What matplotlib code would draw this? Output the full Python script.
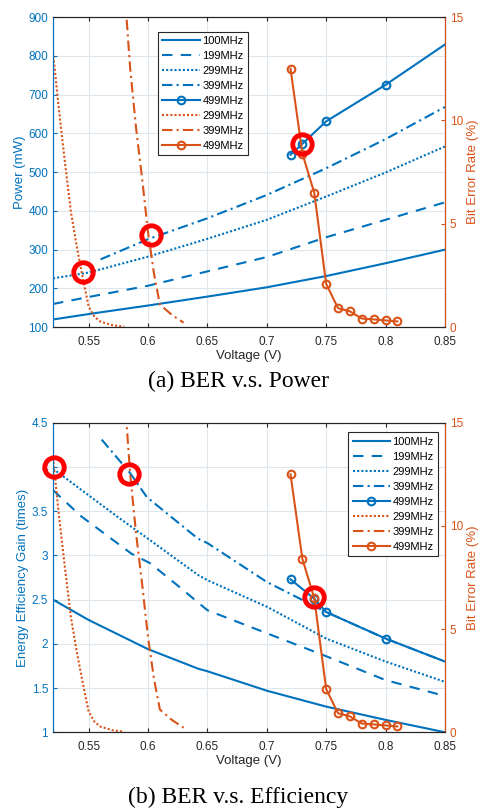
import numpy as np
import matplotlib.pyplot as plt
from matplotlib.lines import Line2D

plt.rcParams['font.family'] = ['Liberation Sans', 'DejaVu Sans']

BLUE = '#0072BD'
ORANGE = '#D95319'
GRAY = '#262626'

# ---------------- data ----------------
v_base = [0.52, 0.55, 0.60, 0.65, 0.70, 0.75, 0.80, 0.85]
v_399 = [0.56, 0.60, 0.65, 0.70, 0.75, 0.80, 0.85]
v_499_pow = [0.72, 0.73, 0.75, 0.80, 0.85]
v_499_eff = [0.72, 0.74, 0.75, 0.80, 0.85]

# power (mW)
pow_100 = [120, 134, 156, 179, 203, 232, 265, 300]
pow_199 = [160, 178, 207, 244, 281, 332, 377, 422]
pow_299 = [226, 241, 282, 328, 377, 437, 499, 566]
pow_399 = [275, 327, 381, 441, 510, 585, 668]
pow_499 = [545, 573, 631, 725, 829]

# energy efficiency gain (times)
v_eff_100 = [0.52, 0.55, 0.60, 0.642, 0.65, 0.70, 0.75, 0.80, 0.85]
eff_100 = [2.50, 2.27, 1.94, 1.72, 1.69, 1.47, 1.29, 1.14, 1.00]
v_eff_199 = [0.52, 0.527, 0.544, 0.565, 0.586, 0.602, 0.624, 0.65, 0.70, 0.75, 0.80, 0.85]
eff_199 = [3.74, 3.65, 3.44, 3.23, 3.02, 2.91, 2.67, 2.38, 2.12, 1.86, 1.59, 1.41]
v_eff_299 = [0.52, 0.546, 0.574, 0.602, 0.642, 0.65, 0.70, 0.75, 0.80, 0.85]
eff_299 = [3.98, 3.72, 3.44, 3.17, 2.78, 2.72, 2.42, 2.06, 1.80, 1.57]
v_eff_399 = [0.561, 0.585, 0.599, 0.642, 0.65, 0.70, 0.75, 0.80, 0.85]
eff_399 = [4.31, 3.93, 3.66, 3.19, 3.14, 2.70, 2.36, 2.06, 1.80]
eff_499 = [2.73, 2.51, 2.36, 2.06, 1.80]

# bit error rate (%)
v_ber_299 = [0.52, 0.525, 0.53, 0.535, 0.54, 0.545, 0.55, 0.555, 0.56, 0.57, 0.58]
ber_299 = [13.3, 10.5, 8.0, 5.6, 3.9, 2.4, 1.0, 0.5, 0.27, 0.1, 0.02]
v_ber_399 = [0.58, 0.585, 0.59, 0.595, 0.60, 0.605, 0.61, 0.62, 0.63]
ber_399 = [16.5, 12.5, 9.6, 7.2, 4.6, 2.6, 1.1, 0.6, 0.22]
v_ber_499 = [0.72, 0.73, 0.74, 0.75, 0.76, 0.77, 0.78, 0.79, 0.80, 0.81]
ber_499 = [12.5, 8.4, 6.5, 2.1, 0.92, 0.77, 0.42, 0.38, 0.33, 0.28]

# highlighted points (left-axis units)
hl_pow_x = [0.545, 0.6025, 0.73]
hl_pow_y = [243, 337, 573]
hl_eff_x = [0.521, 0.584, 0.74]
hl_eff_y = [4.0, 3.92, 2.53]

labels = ['100MHz', '199MHz', '299MHz', '399MHz', '499MHz', '299MHz', '399MHz', '499MHz']

fig = plt.figure(figsize=(4.82, 8.10), dpi=100)
LW = 1.5


def draw(rect, blue_sets, v499, y499, yl, yticks, ytlabels, ylabel, hlx, hly, legloc):
    ax = fig.add_axes(rect)
    ax2 = ax.twinx()
    (x1, y1), (x2, y2), (x3, y3), (x4, y4) = blue_sets
    ax.plot(x1, y1, '-', color=BLUE, lw=LW)
    ax.plot(x2, y2, '--', color=BLUE, lw=LW, dashes=(5, 4))
    ax.plot(x3, y3, ':', color=BLUE, lw=LW, dashes=(1, 1))
    ax.plot(x4, y4, '-.', color=BLUE, lw=LW, dashes=(5, 2, 1, 2))
    ax.plot(v499, y499, '-', color=BLUE, lw=LW, marker='o', ms=5.5,
            mfc='none', mew=1.5, markevery=list(range(len(v499) - 1)))
    ax2.plot(v_ber_299, ber_299, ':', color=ORANGE, lw=LW, dashes=(1, 1))
    ax2.plot(v_ber_399, ber_399, '-.', color=ORANGE, lw=LW, dashes=(5, 2, 1, 2))
    ax2.plot(v_ber_499, ber_499, '-', color=ORANGE, lw=LW, marker='o', ms=5.5,
             mfc='none', mew=1.5)
    # red highlight circles, on top
    ax2.plot(hlx, hly, 'o', transform=ax.transData, ms=14, mfc='none',
             mec='#FF0000', mew=3.5, zorder=10, clip_on=False)

    ax.set_xlim(0.52, 0.85)
    ax.set_ylim(*yl)
    ax2.set_ylim(0, 15)
    ax.set_xticks([0.55, 0.6, 0.65, 0.7, 0.75, 0.8, 0.85])
    ax.set_xticklabels(['0.55', '0.6', '0.65', '0.7', '0.75', '0.8', '0.85'])
    ax.set_yticks(yticks)
    ax.set_yticklabels(ytlabels)
    ax2.set_yticks([0, 5, 10, 15])
    ax.grid(True, color='#dfe6ec', lw=0.8)
    ax.set_axisbelow(True)
    ax.tick_params(axis='x', direction='in', colors=GRAY, labelsize=8.5, top=True,
                   length=3, pad=6)
    ax.tick_params(axis='y', direction='in', colors=BLUE, labelsize=8.5, length=3)
    ax2.tick_params(axis='y', direction='in', colors=ORANGE, labelsize=8.5, length=3)
    ax.spines['left'].set_color(BLUE)
    ax2.spines['left'].set_color(BLUE)
    ax2.spines['right'].set_color(ORANGE)
    for s in ['top', 'bottom']:
        ax.spines[s].set_color(GRAY)
        ax2.spines[s].set_color(GRAY)
    ax.set_xlabel('Voltage (V)', fontsize=9.5, color=GRAY, labelpad=2)
    ax.set_ylabel(ylabel, fontsize=9.5, color=BLUE, labelpad=2)
    ax2.set_ylabel('Bit Error Rate (%)', fontsize=9.5, color=ORANGE, labelpad=3)

    handles = [
        Line2D([], [], ls='-', color=BLUE, lw=LW),
        Line2D([], [], ls='--', color=BLUE, lw=LW, dashes=(5, 4)),
        Line2D([], [], ls=':', color=BLUE, lw=LW, dashes=(1, 1)),
        Line2D([], [], ls='-.', color=BLUE, lw=LW, dashes=(5, 2, 1, 2)),
        Line2D([], [], ls='-', color=BLUE, lw=LW, marker='o', ms=5.5, mfc='none', mew=1.5),
        Line2D([], [], ls=':', color=ORANGE, lw=LW, dashes=(1, 1)),
        Line2D([], [], ls='-.', color=ORANGE, lw=LW, dashes=(5, 2, 1, 2)),
        Line2D([], [], ls='-', color=ORANGE, lw=LW, marker='o', ms=5.5, mfc='none', mew=1.5),
    ]
    leg = ax2.legend(handles, labels, loc='upper left', bbox_to_anchor=legloc,
                     fontsize=8, frameon=True, fancybox=False, framealpha=1,
                     edgecolor=GRAY, handlelength=3.4, handletextpad=0.2,
                     labelspacing=0.45, borderpad=0.4, borderaxespad=0)
    leg.get_frame().set_linewidth(0.8)
    return ax


draw([0.110, 0.596, 0.813, 0.383],
     [(v_base, pow_100), (v_base, pow_199), (v_base, pow_299), (v_399, pow_399)],
     v_499_pow, pow_499, (100, 900), list(range(100, 1000, 100)),
     [str(t) for t in range(100, 1000, 100)], 'Power (mW)',
     hl_pow_x, hl_pow_y, (0.268, 0.953))

draw([0.110, 0.096, 0.813, 0.382],
     [(v_eff_100, eff_100), (v_eff_199, eff_199), (v_eff_299, eff_299), (v_eff_399, eff_399)],
     v_499_eff, eff_499, (1, 4.5), [1, 1.5, 2, 2.5, 3, 3.5, 4, 4.5],
     ['1', '1.5', '2', '2.5', '3', '3.5', '4', '4.5'], 'Energy Efficiency Gain (times)',
     hl_eff_x, hl_eff_y, (0.753, 0.97))

fig.text(0.495, 1 - 381 / 810, '(a) BER v.s. Power', ha='center', va='center',
         fontsize=17, family='Liberation Serif')
fig.text(0.495, 1 - 797 / 810, '(b) BER v.s. Efficiency', ha='center', va='center',
         fontsize=17, family='Liberation Serif')

fig.savefig('out.png', dpi=100)
